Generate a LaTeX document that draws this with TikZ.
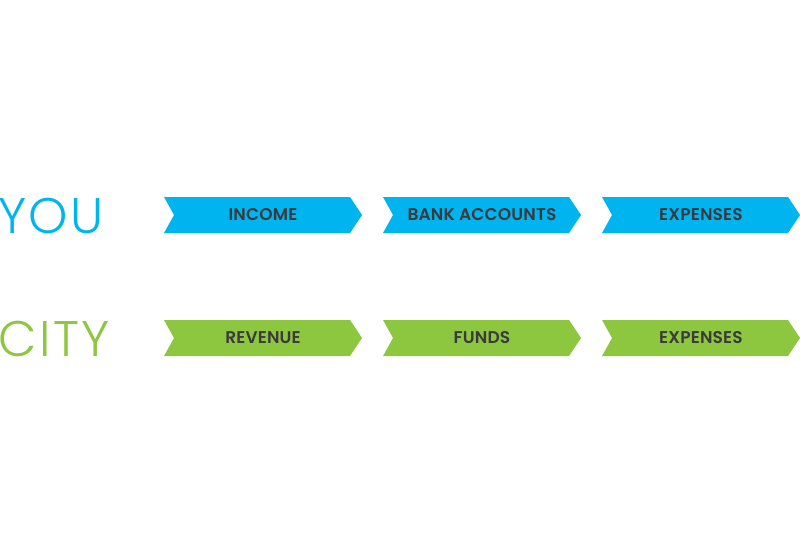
\documentclass[tikz,border=0pt]{standalone}
\usepackage{fontspec}
\setmainfont{Poppins}
\newfontfamily\lightfont{Poppins Light}[LetterSpace=5]
\newfontfamily\semifont{Poppins SemiBold}[LetterSpace=1]
\definecolor{youblue}{HTML}{00B4EF}
\definecolor{citygreen}{HTML}{8DC63F}
\definecolor{labeltext}{HTML}{3A3A3C}
\tikzset{
  chev/.style={fill=#1, draw=none},
  lbl/.style={text=labeltext, font=\semifont\fontsize{17}{18}\selectfont, inner sep=0pt, anchor=center},
  rowlbl/.style={font=\lightfont\fontsize{50}{50}\selectfont, inner sep=0pt, anchor=west}
}
\newcommand{\chevron}[4]{% x0, top, color, name
  \fill[chev=#3] (#1,#2) -- ++(186,0) -- ++(12,18) -- ++(-12,18) -- ++(-186,0) -- ++(10,-18) -- cycle;
  \coordinate (#4) at ({#1+99},{#2+18});
}
\begin{document}
\begin{tikzpicture}[x=1pt,y=-1pt]
\useasboundingbox (0,0) rectangle (800,554);
\chevron{164}{197}{youblue}{c1}
\chevron{383}{197}{youblue}{c2}
\chevron{602}{197}{youblue}{c3}
\chevron{164}{320}{citygreen}{d1}
\chevron{383}{320}{citygreen}{d2}
\chevron{602}{320}{citygreen}{d3}
\node[lbl] (t1) at (c1) {INCOME};
\node[lbl] (t2) at (c2) {BANK ACCOUNTS};
\node[lbl] (t3) at (c3) {EXPENSES};
\node[lbl] (u1) at (d1) {REVENUE};
\node[lbl] (u2) at (d2) {FUNDS};
\node[lbl] (u3) at (d3) {EXPENSES};
\node[rowlbl, text=youblue] (you) at (-2,215.5) {YOU};
\node[rowlbl, text=citygreen] (city) at (-2,338.5) {CITY};
\end{tikzpicture}
\end{document}
